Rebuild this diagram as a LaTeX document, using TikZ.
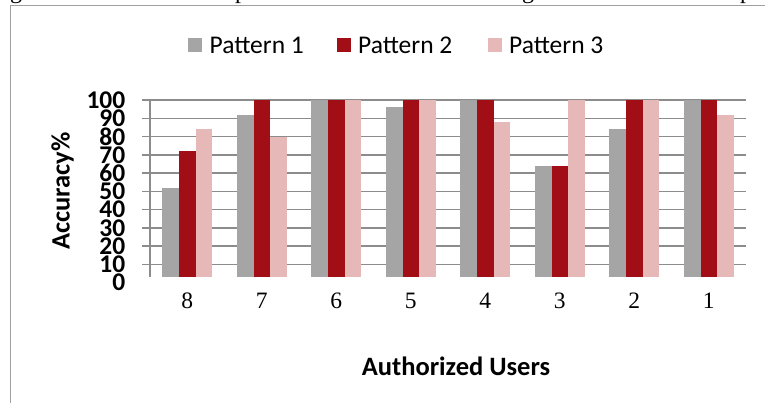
\documentclass[tikz,border=0pt]{standalone}
\usepackage{fontspec}
\setmainfont{Liberation Serif}
\newfontfamily\calibri{Carlito}
\definecolor{pgray}{HTML}{A5A5A5}
\definecolor{pred}{HTML}{A20E16}
\definecolor{ppink}{HTML}{E6B9B8}
\definecolor{gridc}{HTML}{8C8C8C}
\definecolor{framec}{HTML}{A0A0A0}
\tikzset{
  gridline/.style={draw=gridc, line width=1.4pt},
  framebar/.style={draw=framec, line width=1.5pt},
  ylab/.style={font=\calibri\bfseries\fontsize{25.5}{25.5}\selectfont, inner sep=0pt, anchor=east},
  catlab/.style={font=\fontsize{23.5}{23.5}\selectfont, inner sep=0pt},
  legtext/.style={font=\calibri\fontsize{25.5}{25.5}\selectfont, inner sep=0pt, anchor=base west},
  axtitle/.style={font=\calibri\bfseries\fontsize{26.5}{26.5}\selectfont, inner sep=0pt},
  frag/.style={font=\fontsize{24}{24}\selectfont, inner sep=0pt, anchor=base}
}
\begin{document}
\begin{tikzpicture}[x=1pt,y=-1pt]
\useasboundingbox (0,0) rectangle (765,403);
\clip (0,0) rectangle (765,403);
% cut-off text line above the frame
\node[frag] (fragA) at (16,-1.2) {g};
\node[frag] (fragB) at (241,-1.2) {p};
\node[frag] (fragC) at (528,-1.2) {g};
\node[frag] (fragD) at (746,-1.2) {p};
% frame
\coordinate (frameBL) at (10.7,403);
\coordinate (frameTL) at (10.7,5.5);
\coordinate (frameTR) at (765,5.5);
\draw[framebar] (frameBL) -- (frameTL) -- (frameTR);
% gridlines and y labels
\foreach \k in {1,...,10} {
  \coordinate (gl\k) at (142,282.7-18.27*\k);
  \coordinate (gr\k) at (746,282.7-18.27*\k);
  \draw[gridline] (gl\k) -- (gr\k);
}
\foreach \k in {0,...,10} {
  \pgfmathtruncatemacro\val{10*\k}
  \node[ylab] (ylab\k) at (125.5,282.7-18.27*\k) {\val};
}
\coordinate (axTop) at (150,100);
\coordinate (axBot) at (150,277.3);
\draw[gridline] (axTop) -- (axBot);
% bars
\foreach \a/\b/\c [count=\i] in {52/72/84, 92/100/80, 100/100/100, 96/100/100, 100/100/88, 64/64/100, 84/100/100, 100/100/92} {
  \pgfmathsetmacro\cx{150+74.5*(\i-0.5)}
  \pgfmathtruncatemacro\lab{9-\i}
  \fill[pgray] (\cx-24.8,277.3) rectangle (\cx-8.2,282.7-1.827*\a);
  \fill[pred] (\cx-8.2,277.3) rectangle (\cx+8.4,282.7-1.827*\b);
  \fill[ppink] (\cx+8.4,277.3) rectangle (\cx+25,282.7-1.827*\c);
  \node[catlab] (cat\lab) at (\cx,300.5) {\lab};
}
% legend
\fill[pgray] (188,38) rectangle (202,52);
\node[legtext] (leg1) at (209.5,53.3) {Pattern 1};
\fill[pred] (337,38) rectangle (351,52);
\node[legtext] (leg2) at (358,53.3) {Pattern 2};
\fill[ppink] (487.5,38) rectangle (501.5,52);
\node[legtext] (leg3) at (509,53.3) {Pattern 3};
% axis titles
\node[axtitle, rotate=90] (ytitle) at (62.5,191) {Accuracy\%};
\node[axtitle] (xtitle) at (456,366) {Authorized Users};
\end{tikzpicture}
\end{document}
